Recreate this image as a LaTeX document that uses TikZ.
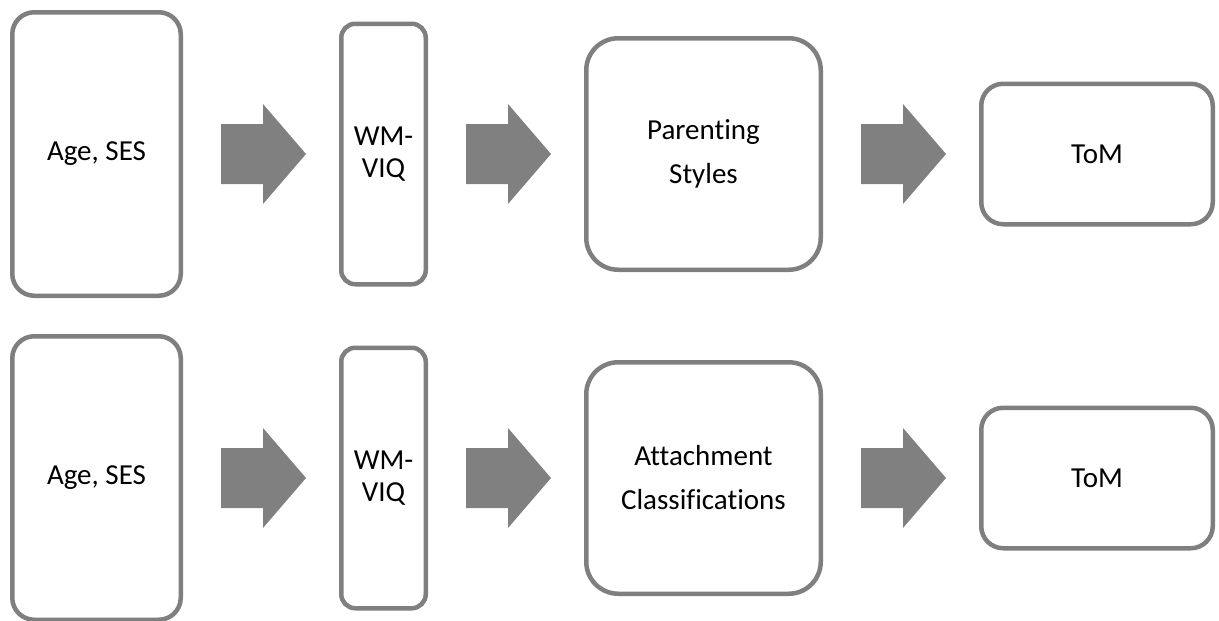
\documentclass[tikz,border=0pt]{standalone}
\usepackage{fontspec}
\setmainfont[Ligatures={NoCommon}]{Carlito}
\usetikzlibrary{positioning,calc}
\definecolor{framegray}{HTML}{7F7F7F}
\definecolor{arrowgray}{HTML}{808080}
\tikzset{
  box/.style={draw=framegray, line width=4.5pt, fill=white, align=center, inner sep=0pt, font=\fontsize{29}{35}\selectfont},
  tallbox/.style={box, minimum width=168.5pt, minimum height=283.5pt, rounded corners=22pt},
  slimbox/.style={box, minimum width=84.5pt, minimum height=260.5pt, rounded corners=14pt},
  squarebox/.style={box, minimum width=234.5pt, minimum height=231.5pt, rounded corners=32pt},
  widebox/.style={box, minimum width=231.5pt, minimum height=140.5pt, rounded corners=22pt},
  blockarrow/.style={fill=arrowgray}
}

\begin{document}
\begin{tikzpicture}[x=1pt, y=1pt, node distance=156pt]
  \useasboundingbox (0,0) rectangle (1219,-621);

  % upper row: parenting styles
  \node[tallbox] (age1) at (96.5,-154) {Age, SES};
  \node[slimbox, right=of age1] (wm1) {WM-\\[-3pt]VIQ};
  \node[squarebox, right=of wm1] (par) {Parenting\\[9pt]Styles};
  \node[widebox, right=of par] (tom1) {ToM};

  % lower row: attachment classifications
  \node[tallbox] (age2) at (96.5,-478) {Age, SES};
  \node[slimbox, right=of age2] (wm2) {WM-\\[-3pt]VIQ};
  \node[squarebox, right=of wm2] (att) {Attachment\\[9pt]Classifications};
  \node[widebox, right=of att] (tom2) {ToM};

  % block arrows between neighbours
  \foreach \s/\t in {age1/wm1, wm1/par, par/tom1, age2/wm2, wm2/att, att/tom2}
    \fill[blockarrow] ($(\s.east)+(38,30)$) -- ++(42,0) -- ++(0,20)
      -- ($(\t.west)+(-33,0)$) -- ($(\s.east)+(80,-50)$) -- ++(0,20)
      -- ++(-42,0) -- cycle;
\end{tikzpicture}
\end{document}
